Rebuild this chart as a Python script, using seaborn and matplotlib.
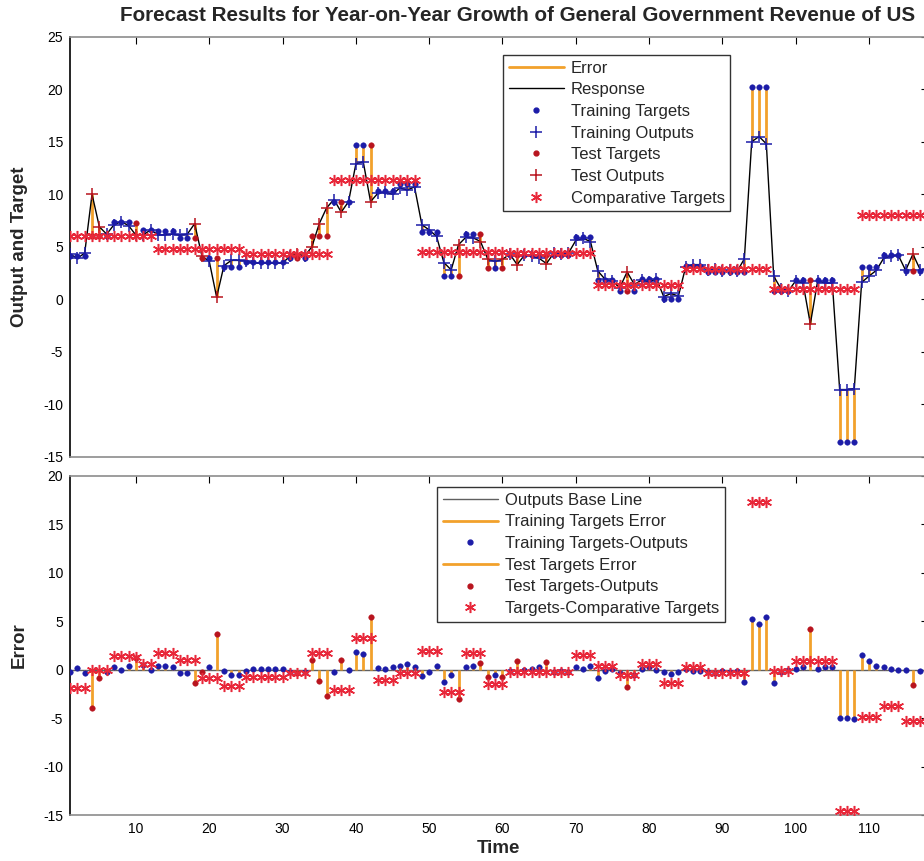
import numpy as np
import pandas as pd
import matplotlib
matplotlib.use("Agg")
import matplotlib.pyplot as plt
import seaborn as sns
from matplotlib.lines import Line2D

# monthly steps 1..118
time = list(range(1, 119))

targets = [
    4.1, 4.1, 4.1, 6.0, 6.0, 6.0, 7.4, 7.4, 7.4, 7.3, 6.6, 6.6,
    6.5, 6.5, 6.5, 5.8, 5.8, 5.8, 3.9, 3.9, 3.9, 3.1, 3.1, 3.1,
    3.55, 3.55, 3.55, 3.55, 3.55, 3.55, 3.9, 3.9, 3.9, 6.0, 6.0, 6.0,
    9.3, 9.3, 9.3, 14.7, 14.7, 14.7, 10.3, 10.3, 10.3, 11.0, 11.0, 11.0,
    6.4, 6.4, 6.4, 2.2, 2.2, 2.2, 6.2, 6.2, 6.2, 3.0, 3.0, 3.0,
    4.2, 4.2, 4.2, 4.2, 4.2, 4.2, 4.2, 4.2, 4.2, 5.9, 5.9, 5.9,
    1.8, 1.8, 1.8, 0.8, 0.8, 0.8, 1.95, 1.95, 1.95, 0.05, 0.05, 0.05,
    3.2, 3.2, 3.2, 2.55, 2.55, 2.55, 2.55, 2.55, 2.55, 20.2, 20.2, 20.2,
    0.8, 0.8, 0.8, 1.85, 1.85, 1.85, 1.85, 1.85, 1.85, -13.6, -13.6, -13.6,
    3.1, 3.1, 3.1, 4.2, 4.2, 4.2, 2.7, 2.7, 2.7, 2.7,
]

outputs = [
    4.3, 3.9, 4.4, 10.0, 6.9, 6.2, 7.1, 7.4, 7.0, 6.1, 6.15, 6.6,
    6.15, 6.15, 6.2, 6.1, 6.2, 7.2, 4.1, 3.6, 0.2, 3.2, 3.7, 3.7,
    3.65, 3.45, 3.45, 3.45, 3.45, 3.45, 4.1, 4.3, 4.1, 5.0, 7.2, 8.7,
    9.5, 8.3, 9.3, 12.9, 13.1, 9.3, 10.1, 10.2, 10.0, 10.6, 10.4, 10.7,
    7.1, 6.6, 6.0, 3.5, 2.8, 5.2, 5.9, 5.85, 5.5, 3.8, 3.6, 3.8,
    4.3, 3.3, 4.2, 4.1, 3.9, 3.4, 4.4, 4.3, 4.4, 5.6, 5.8, 5.5,
    2.7, 1.9, 1.7, 1.1, 2.6, 1.4, 1.85, 1.65, 1.95, 0.25, 0.55, 0.3,
    3.1, 3.3, 3.3, 2.75, 2.85, 2.65, 2.75, 2.65, 3.85, 15.0, 15.5, 14.8,
    2.2, 1.0, 0.8, 1.75, 1.55, -2.35, 1.75, 1.55, 1.55, -8.6, -8.6, -8.5,
    1.6, 2.2, 2.75, 3.9, 4.1, 4.2, 2.75, 4.3, 2.8, 2.9,
]

# previous-year values held for 12 months
comparative_yearly = [6.0, 4.8, 4.3, 11.4, 4.5, 4.4, 1.4, 2.9, 0.95, 8.0]

test_steps = [4, 5, 10, 18, 19, 21, 32, 34, 35, 36, 38, 42, 54, 57, 58,
              60, 62, 66, 77, 102, 116]

df = pd.DataFrame({"time": time, "target": targets, "output": outputs})
df["comparative"] = np.repeat(comparative_yearly, 12)[:len(time)]
df["set"] = np.where(df["time"].isin(test_steps), "Test", "Training")
df["error"] = df["target"] - df["output"]
df["comp_error"] = df["target"] - df["comparative"]
train = df[df["set"] == "Training"]
test = df[df["set"] == "Test"]

ORANGE = "#f2a12c"
BLUE = "#1c1ca8"
DRED = "#b8141e"
RED = "#e8283a"
STAR = (6, 2, 0)

sns.set_theme(style="white")
plt.rcParams["font.family"] = ["Liberation Sans", "DejaVu Sans"]
plt.rcParams["axes.unicode_minus"] = False

fig = plt.figure(figsize=(9.24, 8.61), dpi=100)
ax1 = fig.add_axes([0.0758, 0.4695, 0.9281, 0.4878])
ax2 = fig.add_axes([0.0758, 0.0534, 0.9281, 0.3941])

# ---- top panel: response ----
ax1.vlines(df["time"], df["output"], df["target"], color=ORANGE, lw=2, zorder=1)
sns.lineplot(data=df, x="time", y="output", color="black", lw=1, ax=ax1, zorder=2)
sns.scatterplot(data=train, x="time", y="target", color=BLUE, s=16,
                edgecolor=BLUE, ax=ax1, zorder=3)
ax1.plot(train["time"], train["output"], "+", color=BLUE, ms=8, mew=1.1, zorder=3)
sns.scatterplot(data=test, x="time", y="target", color=DRED, s=16,
                edgecolor=DRED, ax=ax1, zorder=4)
ax1.plot(test["time"], test["output"], "+", color=DRED, ms=8, mew=1.1, zorder=4)
ax1.plot(df["time"], df["comparative"], ls="none", marker=STAR, color=RED,
         ms=8, mew=1.1, zorder=5)

# ---- bottom panel: errors ----
ax2.axhline(0, color="#606060", lw=1, zorder=1)
ax2.vlines(train["time"], 0, train["error"], color=ORANGE, lw=2, zorder=2)
ax2.vlines(test["time"], 0, test["error"], color=ORANGE, lw=2, zorder=2)
sns.scatterplot(data=train, x="time", y="error", color=BLUE, s=16,
                edgecolor=BLUE, ax=ax2, zorder=3)
sns.scatterplot(data=test, x="time", y="error", color=DRED, s=16,
                edgecolor=DRED, ax=ax2, zorder=3)
ax2.plot(df["time"], df["comp_error"], ls="none", marker=STAR, color=RED,
         ms=8, mew=1.1, zorder=4)

for ax, ylim, yt in [(ax1, (-15, 25), range(-15, 26, 5)),
                     (ax2, (-15, 20), range(-15, 21, 5))]:
    ax.set_xlim(1, 118)
    ax.set_ylim(*ylim)
    ax.set_yticks(list(yt))
    ax.set_xticks(range(10, 111, 10))
    ax.tick_params(direction="in", length=5, width=0.8, top=True, right=True,
                   labelsize=10, pad=5, colors="black")
    ax.grid(False)
    for side, sp in ax.spines.items():
        sp.set_linewidth(1.2)
        sp.set_color("black" if side == "left" else "#8c8c8c")
    ax.set_xlabel("")

ax1.set_xticklabels([])
ax1.set_ylabel("Output and Target", fontsize=13.5, fontweight="bold")
ax1.yaxis.set_label_coords(-0.049, 0.5)
ax2.set_ylabel("Error", fontsize=13.5, fontweight="bold")
ax2.yaxis.set_label_coords(-0.049, 0.5)
ax2.set_xlabel("Time", fontsize=13.5, fontweight="bold", labelpad=3)
ax1.set_title("Forecast Results for Year-on-Year Growth of General Government Revenue of US",
              fontsize=14.9, fontweight="bold", x=0.522, pad=11)

legend_kw = dict(loc="upper left", fontsize=12, frameon=True, fancybox=False,
                 edgecolor="black", handlelength=3.3, handletextpad=0.4,
                 labelspacing=0.4, borderpad=0.35, borderaxespad=0)

top_handles = [
    Line2D([], [], color=ORANGE, lw=2),
    Line2D([], [], color="black", lw=1),
    Line2D([], [], ls="none", marker=".", color=BLUE, ms=7),
    Line2D([], [], ls="none", marker="+", color=BLUE, ms=8, mew=1.1),
    Line2D([], [], ls="none", marker=".", color=DRED, ms=7),
    Line2D([], [], ls="none", marker="+", color=DRED, ms=8, mew=1.1),
    Line2D([], [], ls="none", marker=STAR, color=RED, ms=8, mew=1.1),
]
top_labels = ["Error", "Response", "Training Targets", "Training Outputs",
              "Test Targets", "Test Outputs", "Comparative Targets"]
leg1 = ax1.legend(top_handles, top_labels, bbox_to_anchor=(0.505, 0.957), **legend_kw)
leg1.get_frame().set_linewidth(1)

bot_handles = [
    Line2D([], [], color="#606060", lw=1),
    Line2D([], [], color=ORANGE, lw=2),
    Line2D([], [], ls="none", marker=".", color=BLUE, ms=7),
    Line2D([], [], color=ORANGE, lw=2),
    Line2D([], [], ls="none", marker=".", color=DRED, ms=7),
    Line2D([], [], ls="none", marker=STAR, color=RED, ms=8, mew=1.1),
]
bot_labels = ["Outputs Base Line", "Training Targets Error", "Training Targets-Outputs",
              "Test Targets Error", "Test Targets-Outputs", "Targets-Comparative Targets"]
leg2 = ax2.legend(bot_handles, bot_labels, bbox_to_anchor=(0.428, 0.967), **legend_kw)
leg2.get_frame().set_linewidth(1)

fig.savefig("out.png", dpi=100)
